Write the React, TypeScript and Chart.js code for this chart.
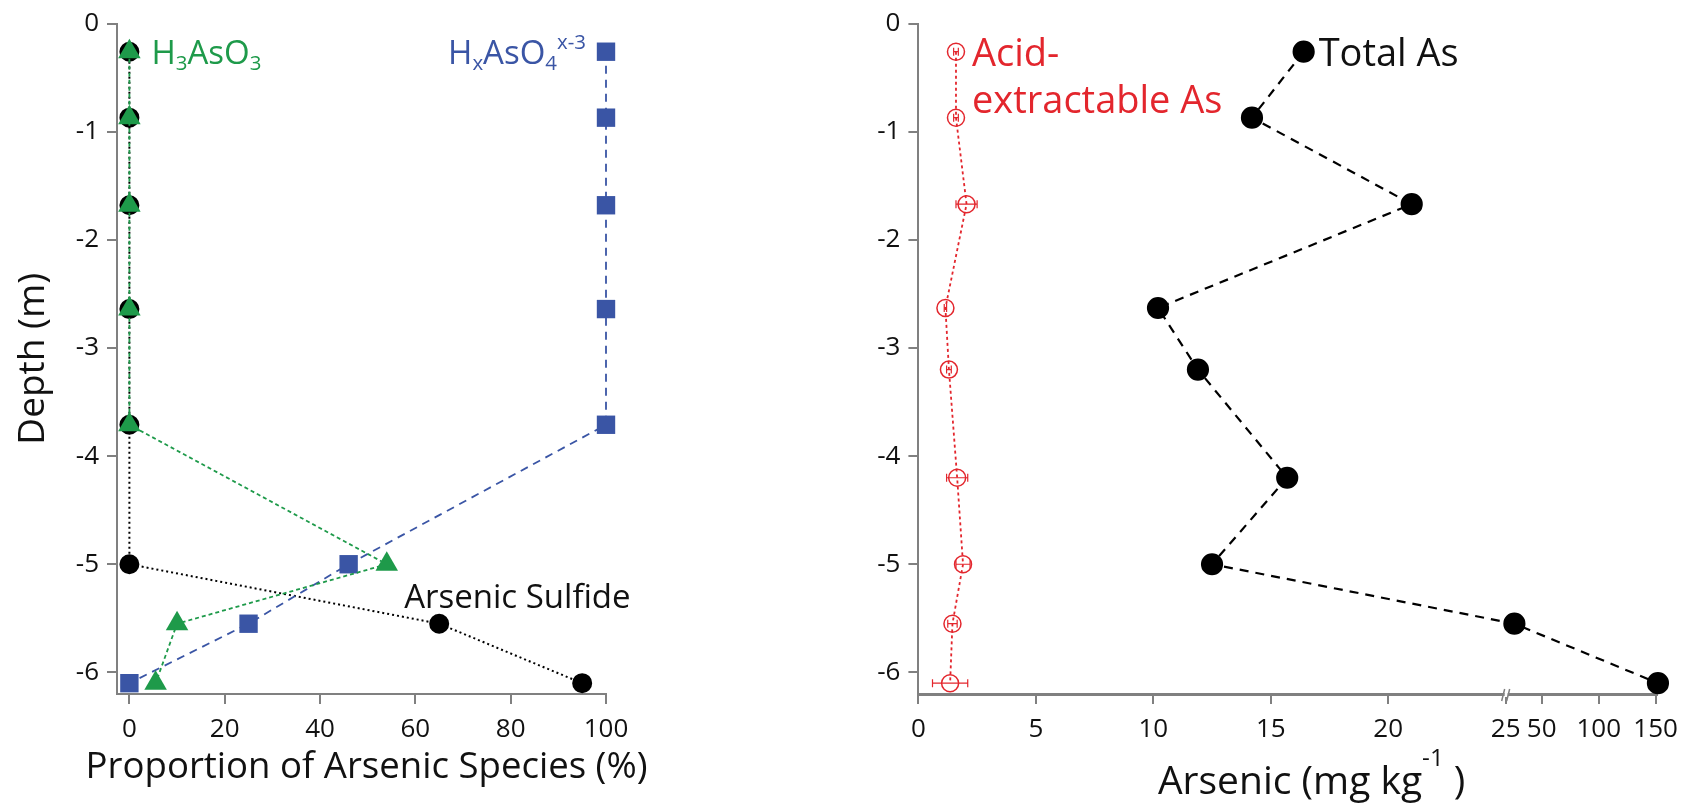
import React, { useEffect, useRef } from 'react';
import { Chart, registerables, LinearScale } from 'chart.js';

Chart.register(...registerables);

// ---------- Left panel: arsenic speciation ----------
const depthSpecies = [-0.26, -0.87, -1.68, -2.64, -3.71, -5.0, -5.55, -6.1];
const arseniteH3AsO3 = [0, 0, 0, 0, 0, 54, 10, 5.5];
const arsenateHxAsO4 = [100, 100, 100, 100, 100, 46, 25, 0];
const arsenicSulfide = [0, 0, 0, 0, 0, 0, 65, 95];
const speciesXTicks = [0, 20, 40, 60, 80, 100];
const depthTicks = [0, -1, -2, -3, -4, -5, -6];

// ---------- Right panel: arsenic concentration ----------
const depthConc = [-0.26, -0.87, -1.67, -2.63, -3.2, -4.2, -5.0, -5.55, -6.1];
const totalAs = [16.4, 14.2, 21.0, 10.2, 11.9, 15.7, 12.5, 26, 152];
const acidAs = [1.6, 1.6, 2.05, 1.15, 1.3, 1.65, 1.9, 1.45, 1.35];
const acidAsErr = [0.1, 0.1, 0.45, 0.05, 0.1, 0.45, 0.3, 0.2, 0.75];
const concXTicks = [0, 5, 10, 15, 20, 25, 50, 100, 150];

// Broken x axis (linear 0-25, compressed above the break)
const X_BREAK = 25;
const X_UPPER_ORIGIN = 18.35;
const X_UPPER_FACTOR = 0.0485;
const toAxisUnits = (v: number) => (v <= X_BREAK ? v : X_BREAK + (v - X_UPPER_ORIGIN) * X_UPPER_FACTOR);
const fromAxisUnits = (u: number) => (u <= X_BREAK ? u : X_UPPER_ORIGIN + (u - X_BREAK) / X_UPPER_FACTOR);

class BrokenLinearScale extends LinearScale {
  static id = 'brokenLinear';
  static defaults = {};
  getPixelForValue(value: number) {
    return super.getPixelForValue(toAxisUnits(value));
  }
  getValueForPixel(pixel: number) {
    return fromAxisUnits(super.getValueForPixel(pixel) as number);
  }
}
Chart.register(BrokenLinearScale);

const FONT = '"Open Sans", sans-serif';
const GREEN = '#1e9a4a';
const BLUE = '#3a55a5';
const RED = '#e3262d';
const AXIS = '#808080';
const TEXT = '#111111';
const LEFT_X_TITLE = 'Proportion of Arsenic Species (%)';

type Seg = { t: string; k?: 'sub' | 'sup' };

function drawRich(
  ctx: CanvasRenderingContext2D,
  segs: Seg[],
  x: number,
  baseline: number,
  size: number,
  color: string,
  align: 'left' | 'right' | 'center',
  supRaise = 0.45
) {
  ctx.save();
  ctx.fillStyle = color;
  ctx.textBaseline = 'alphabetic';
  ctx.textAlign = 'left';
  const parts = segs.map((s) => {
    const sz = s.k ? size * 0.62 : size;
    ctx.font = `${sz}px ${FONT}`;
    return { ...s, sz, w: ctx.measureText(s.t).width };
  });
  const total = parts.reduce((a, p) => a + p.w, 0);
  let cx = align === 'left' ? x : align === 'right' ? x - total : x - total / 2;
  for (const p of parts) {
    ctx.font = `${p.sz}px ${FONT}`;
    const dy = p.k === 'sub' ? size * 0.2 : p.k === 'sup' ? -size * supRaise : 0;
    ctx.fillText(p.t, cx, baseline + dy);
    cx += p.w;
  }
  ctx.restore();
}

const leftLabels = {
  id: 'leftLabels',
  afterDatasetsDraw(chart: any) {
    const { ctx, scales, chartArea } = chart;
    const x = scales.x;
    const y = scales.y;
    const topY = y.getPixelForValue(depthSpecies[0]) + 12;
    drawRich(ctx, [{ t: 'H' }, { t: '3', k: 'sub' }, { t: 'As' }, { t: 'O' }, { t: '3', k: 'sub' }],
      x.getPixelForValue(0) + 22, topY, 33, GREEN, 'left');
    drawRich(ctx, [{ t: 'H' }, { t: 'x', k: 'sub' }, { t: 'AsO' }, { t: '4', k: 'sub' }, { t: 'x-3', k: 'sup' }],
      x.getPixelForValue(100) - 20, topY, 33, BLUE, 'right');
    drawRich(ctx, [{ t: 'Arsenic Sulfide' }],
      x.getPixelForValue(arsenicSulfide[6]) - 35, y.getPixelForValue(depthSpecies[6]) - 16, 33, TEXT, 'left');
    // x-axis title (drawn without width compression)
    ctx.save();
    ctx.font = `36px ${FONT}`;
    const natural = ctx.measureText(LEFT_X_TITLE).width;
    const size = Math.min(38, (36 * 562) / natural);
    ctx.restore();
    drawRich(ctx, [{ t: LEFT_X_TITLE }], (chartArea.left + chartArea.right) / 2 + 5, chart.height - 28, size, TEXT, 'center');
  },
};

const rightLabels = {
  id: 'rightLabels',
  afterDatasetsDraw(chart: any) {
    const { ctx, scales, chartArea } = chart;
    const x = scales.x;
    const y = scales.y;
    const topY = y.getPixelForValue(depthConc[0]) + 14;
    // error bars
    ctx.save();
    ctx.strokeStyle = RED;
    ctx.lineWidth = 1.2;
    acidAs.forEach((v, i) => {
      const py = y.getPixelForValue(depthConc[i]);
      const x1 = x.getPixelForValue(v - acidAsErr[i]);
      const x2 = x.getPixelForValue(v + acidAsErr[i]);
      ctx.beginPath();
      ctx.moveTo(x1, py);
      ctx.lineTo(x2, py);
      ctx.moveTo(x1, py - 4);
      ctx.lineTo(x1, py + 4);
      ctx.moveTo(x2, py - 4);
      ctx.lineTo(x2, py + 4);
      ctx.stroke();
    });
    ctx.restore();
    drawRich(ctx, [{ t: 'Total As' }], x.getPixelForValue(totalAs[0]) + 15, topY, 38, TEXT, 'left');
    drawRich(ctx, [{ t: 'Acid-' }], x.getPixelForValue(acidAs[0]) + 16, topY, 38, RED, 'left');
    drawRich(ctx, [{ t: 'extractable As' }], x.getPixelForValue(acidAs[0]) + 16, topY + 47, 38, RED, 'left');
    // axis title with superscript
    drawRich(ctx, [{ t: 'Arsenic (mg kg' }, { t: '-1', k: 'sup' }, { t: ' )' }],
      (chartArea.left + chartArea.right) / 2 + 24, chart.height - 12, 39, TEXT, 'center', 0.72);
  },
  afterDraw(chart: any) {
    const { ctx, scales, chartArea } = chart;
    const bx = scales.x.getPixelForValue(X_BREAK);
    const by = chartArea.bottom;
    ctx.save();
    ctx.fillStyle = '#ffffff';
    ctx.fillRect(bx - 1, by - 3, 3, 6);
    ctx.strokeStyle = AXIS;
    ctx.lineWidth = 1.5;
    ctx.beginPath();
    ctx.moveTo(bx - 4, by + 7);
    ctx.lineTo(bx - 1, by - 5);
    ctx.moveTo(bx + 1, by + 7);
    ctx.lineTo(bx + 4, by - 5);
    ctx.stroke();
    ctx.restore();
  },
};

const tickFont = { family: FONT, size: 26 };

function depthAxis(width: number) {
  return {
    type: 'linear',
    min: -6.2,
    max: 0,
    bounds: 'data',
    afterBuildTicks: (s: any) => {
      s.ticks = depthTicks.map((v) => ({ value: v }));
    },
    afterFit: (s: any) => {
      s.width = width;
    },
    grid: { display: true, drawOnChartArea: false, drawTicks: true, tickLength: 10, color: AXIS, lineWidth: 2 },
    border: { display: true, color: AXIS, width: 2 },
    ticks: { font: tickFont, color: TEXT, padding: 8, autoSkip: false, callback: (v: any) => String(v) },
  };
}

function leftConfig(): any {
  const pts = (vals: number[]) => depthSpecies.map((d, i) => ({ x: vals[i], y: d }));
  return {
    type: 'line',
    data: {
      datasets: [
        {
          label: 'Arsenic Sulfide', data: pts(arsenicSulfide), borderColor: '#000', borderWidth: 2,
          borderDash: [2, 3], pointStyle: 'circle', pointRadius: 9, pointBackgroundColor: '#000',
          pointBorderColor: '#000', order: 3, clip: false, tension: 0, fill: false,
        },
        {
          label: 'HxAsO4', data: pts(arsenateHxAsO4), borderColor: BLUE, borderWidth: 1.8,
          borderDash: [8, 6], pointStyle: 'rect', pointRadius: 13, pointBackgroundColor: BLUE,
          pointBorderColor: BLUE, pointBorderWidth: 0, order: 2, clip: false, tension: 0, fill: false,
        },
        {
          label: 'H3AsO3', data: pts(arseniteH3AsO3), borderColor: GREEN, borderWidth: 1.8,
          borderDash: [4, 3], pointStyle: 'triangle', pointRadius: 13, pointBackgroundColor: GREEN,
          pointBorderColor: GREEN, pointBorderWidth: 0, order: 1, clip: false, tension: 0, fill: false,
        },
      ],
    },
    options: {
      animation: false,
      responsive: false,
      maintainAspectRatio: false,
      devicePixelRatio: 1,
      layout: { padding: { left: 0, top: 23, right: 94, bottom: 0 } },
      plugins: { legend: { display: false }, tooltip: { enabled: false } },
      scales: {
        x: {
          type: 'linear', min: -2.6, max: 100, bounds: 'data',
          afterBuildTicks: (s: any) => {
            s.ticks = speciesXTicks.map((v) => ({ value: v }));
          },
          afterFit: (s: any) => {
            s.height = 112;
          },
          grid: { display: true, drawOnChartArea: false, drawTicks: true, tickLength: 10, color: AXIS, lineWidth: 2 },
          border: { display: true, color: AXIS, width: 2 },
          ticks: { font: tickFont, color: TEXT, padding: 10, autoSkip: false, maxRotation: 0, callback: (v: any) => String(v) },
          title: { display: false },
        },
        y: {
          ...depthAxis(117),
          title: {
            display: true, text: 'Depth (m)', color: TEXT,
            font: { family: FONT, size: 37 }, padding: { top: 11, bottom: 0 },
          },
        },
      },
    },
    plugins: [leftLabels],
  };
}

function rightConfig(): any {
  return {
    type: 'line',
    data: {
      datasets: [
        {
          label: 'Total As', data: depthConc.map((d, i) => ({ x: totalAs[i], y: d })),
          borderColor: '#000', borderWidth: 2.2, borderDash: [9, 7], pointStyle: 'circle', pointRadius: 10,
          pointBackgroundColor: '#000', pointBorderColor: '#000', order: 1, clip: false, tension: 0, fill: false,
        },
        {
          label: 'Acid-extractable As', data: depthConc.map((d, i) => ({ x: acidAs[i], y: d })),
          borderColor: RED, borderWidth: 1.8, borderDash: [3, 3], pointStyle: 'circle', pointRadius: 8.5,
          pointBackgroundColor: 'rgba(255,255,255,0)', pointBorderColor: RED, pointBorderWidth: 1.5,
          order: 2, clip: false, tension: 0, fill: false,
        },
      ],
    },
    options: {
      animation: false,
      responsive: false,
      maintainAspectRatio: false,
      devicePixelRatio: 1,
      layout: { padding: { left: 0, top: 23, right: 27.5, bottom: 0 } },
      plugins: { legend: { display: false }, tooltip: { enabled: false } },
      scales: {
        x: {
          type: 'brokenLinear', min: 0, max: toAxisUnits(150) + 0.05, bounds: 'data',
          afterBuildTicks: (s: any) => {
            s.ticks = concXTicks.map((v) => ({ value: v }));
          },
          afterFit: (s: any) => {
            s.height = 112;
          },
          grid: { display: true, drawOnChartArea: false, drawTicks: true, tickLength: 10, color: AXIS, lineWidth: 2 },
          border: { display: true, color: AXIS, width: 3 },
          ticks: { font: tickFont, color: TEXT, padding: 10, autoSkip: false, maxRotation: 0, callback: (v: any) => String(v) },
          title: { display: false },
        },
        y: depthAxis(78.4),
      },
    },
    plugins: [rightLabels],
  };
}

export default function App() {
  const leftRef = useRef<HTMLCanvasElement>(null);
  const rightRef = useRef<HTMLCanvasElement>(null);
  useEffect(() => {
    const left = new Chart(leftRef.current as HTMLCanvasElement, leftConfig());
    const right = new Chart(rightRef.current as HTMLCanvasElement, rightConfig());
    return () => {
      left.destroy();
      right.destroy();
    };
  }, []);
  return (
    <div style={{ position: 'absolute', left: 0, top: 0, width: 1688, height: 806, background: '#fff', overflow: 'hidden' }}>
      <canvas ref={leftRef} width={700} height={806} style={{ position: 'absolute', left: 0, top: 0 }} />
      <canvas ref={rightRef} width={848} height={806} style={{ position: 'absolute', left: 840, top: 0 }} />
    </div>
  );
}
